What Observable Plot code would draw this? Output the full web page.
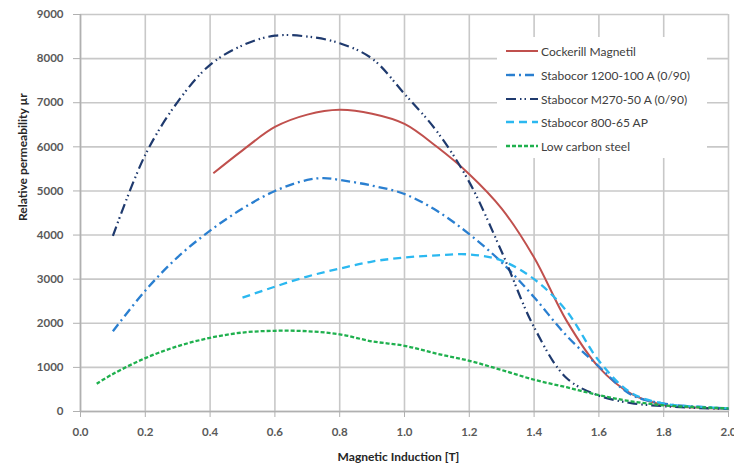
<!DOCTYPE html>
<html>
<head>
<meta charset="utf-8">
<script src="https://cdn.jsdelivr.net/npm/d3@7"></script>
<script src="https://cdn.jsdelivr.net/npm/@observablehq/plot@0.6"></script>
<style>
  body { margin: 0; background: #fff; }
  #wrap { position: relative; width: 734px; height: 468px; overflow: hidden; font-family: Lato, "Open Sans", sans-serif; }
  #legend { position: absolute; left: 497px; top: 37px; width: 210px; height: 121px; background: #fff; }
  .item { position: absolute; left: 0; height: 16px; display: flex; align-items: center; font-size: 12px; color: #404040; white-space: nowrap; }
  .item svg { margin-left: 9px; margin-right: 3px; }
</style>
</head>
<body>
<div id="wrap"></div>
<script>
// ---- data ----
const xTicks = [0, 0.2, 0.4, 0.6, 0.8, 1.0, 1.2, 1.4, 1.6, 1.8, 2.0];
const yTicks = [0, 1000, 2000, 3000, 4000, 5000, 6000, 7000, 8000, 9000];

const seriesNames = [
  "Cockerill Magnetil",
  "Stabocor 1200-100  A (0/90)",
  "Stabocor M270-50 A (0/90)",
  "Stabocor 800-65 AP",
  "Low carbon steel"
];
const seriesColors = ["#c0504d", "#2a7fd0", "#1f3a6e", "#2bb8f0", "#1fb04e"];
const seriesDash = [null, "9,4,2,4", "10,4,1.5,3,1.5,4", "8,5", "4,2"];
const seriesWidth = [2, 2.3, 2.2, 2.3, 2.3];

const cockerillB  = [0.41, 0.5, 0.6, 0.7, 0.8, 0.9, 1.0, 1.1, 1.2, 1.3, 1.4, 1.5, 1.6, 1.7, 1.8, 1.9, 2.0];
const cockerillMu = [5400, 5920, 6450, 6730, 6840, 6750, 6520, 6000, 5380, 4600, 3490, 2060, 1000, 400, 150, 90, 60];

const s1200B  = [0.1, 0.2, 0.3, 0.4, 0.5, 0.6, 0.7, 0.75, 0.8, 0.9, 1.0, 1.1, 1.2, 1.3, 1.4, 1.5, 1.6, 1.7, 1.8, 1.9, 2.0];
const s1200Mu = [1820, 2740, 3500, 4100, 4600, 5000, 5250, 5290, 5250, 5120, 4930, 4550, 4020, 3380, 2590, 1720, 1020, 380, 180, 110, 70];

const m270B  = [0.1, 0.2, 0.3, 0.4, 0.5, 0.6, 0.7, 0.8, 0.9, 1.0, 1.1, 1.2, 1.3, 1.4, 1.5, 1.6, 1.7, 1.8, 1.9, 2.0];
const m270Mu = [3980, 5820, 7020, 7860, 8300, 8520, 8500, 8350, 8000, 7200, 6350, 5200, 3620, 1910, 760, 360, 190, 120, 80, 60];

const s800B  = [0.5, 0.6, 0.7, 0.8, 0.9, 1.0, 1.1, 1.2, 1.3, 1.4, 1.5, 1.6, 1.7, 1.8, 1.9, 2.0];
const s800Mu = [2580, 2830, 3060, 3240, 3400, 3490, 3540, 3560, 3420, 3000, 2280, 1150, 420, 180, 110, 70];

const lowCB  = [0.05, 0.1, 0.2, 0.3, 0.4, 0.5, 0.6, 0.7, 0.8, 0.9, 1.0, 1.1, 1.2, 1.3, 1.4, 1.5, 1.6, 1.7, 1.8, 1.9, 2.0];
const lowCMu = [630, 850, 1210, 1480, 1670, 1790, 1830, 1820, 1750, 1590, 1490, 1310, 1150, 940, 720, 550, 370, 230, 140, 100, 70];

const xTitle = "Magnetic Induction [T]";
const yTitle = "Relative permeability µr";

// ---- build ----
const seriesB = [cockerillB, s1200B, m270B, s800B, lowCB];
const seriesMu = [cockerillMu, s1200Mu, m270Mu, s800Mu, lowCMu];
const toRows = (bs, ms) => bs.map((b, i) => ({b, mu: ms[i]}));

const lineMarks = seriesB.map((bs, k) =>
  Plot.line(toRows(bs, seriesMu[k]), {
    x: "b", y: "mu",
    stroke: seriesColors[k],
    strokeWidth: seriesWidth[k],
    strokeDasharray: seriesDash[k] || undefined,
    strokeLinecap: "butt",
    curve: "catmull-rom"
  })
);

const tickFont = {fontSize: 11.5, fontWeight: "bold", fill: "#595959"};

const chart = Plot.plot({
  width: 734,
  height: 468,
  marginLeft: 80,
  marginRight: 6,
  marginTop: 14,
  marginBottom: 57,
  style: {fontFamily: "Lato, 'Open Sans', sans-serif", background: "#fff"},
  x: {domain: [0, 2]},
  y: {domain: [0, 9000]},
  marks: [
    Plot.gridX(xTicks, {stroke: "#c8c8c8", strokeOpacity: 1, strokeWidth: 1.6}),
    Plot.gridY(yTicks, {stroke: "#c8c8c8", strokeOpacity: 1, strokeWidth: 1.6}),
    Plot.ruleX([0], {stroke: "#b0b0b0", strokeWidth: 1.5}),
    Plot.ruleY([0], {stroke: "#b0b0b0", strokeWidth: 1.5}),
    Plot.axisX(xTicks, {tickSize: 6, tickPadding: 10, tickFormat: d3.format(".1f"), stroke: "#b0b0b0", label: null, ...tickFont}),
    Plot.axisY(yTicks, {tickSize: 7, tickPadding: 10, tickFormat: d3.format("d"), stroke: "#b0b0b0", label: null, ...tickFont}),
    ...lineMarks,
    Plot.text([xTitle], {frameAnchor: "bottom", dy: 46, dx: -6, fontSize: 12, fontWeight: "bold", fill: "#262626", lineAnchor: "middle"}),
    Plot.text([yTitle], {frameAnchor: "left", dx: -57, dy: 8, rotate: -90, fontSize: 12, fontWeight: "bold", fill: "#262626", lineAnchor: "middle"})
  ]
});

const wrap = document.getElementById("wrap");
wrap.appendChild(chart);

// legend
const legend = document.createElement("div");
legend.id = "legend";
const rowTops = [6, 30, 54, 77, 101];
seriesNames.forEach((name, k) => {
  const item = document.createElement("div");
  item.className = "item";
  item.style.top = rowTops[k] + "px";
  const dash = seriesDash[k] ? `stroke-dasharray="${seriesDash[k]}"` : "";
  item.innerHTML = `<svg width="32" height="6"><line x1="0" y1="3" x2="32" y2="3" stroke="${seriesColors[k]}" stroke-width="${seriesWidth[k]}" ${dash}/></svg><span>${name}</span>`;
  legend.appendChild(item);
});
wrap.appendChild(legend);
</script>
</body>
</html>
